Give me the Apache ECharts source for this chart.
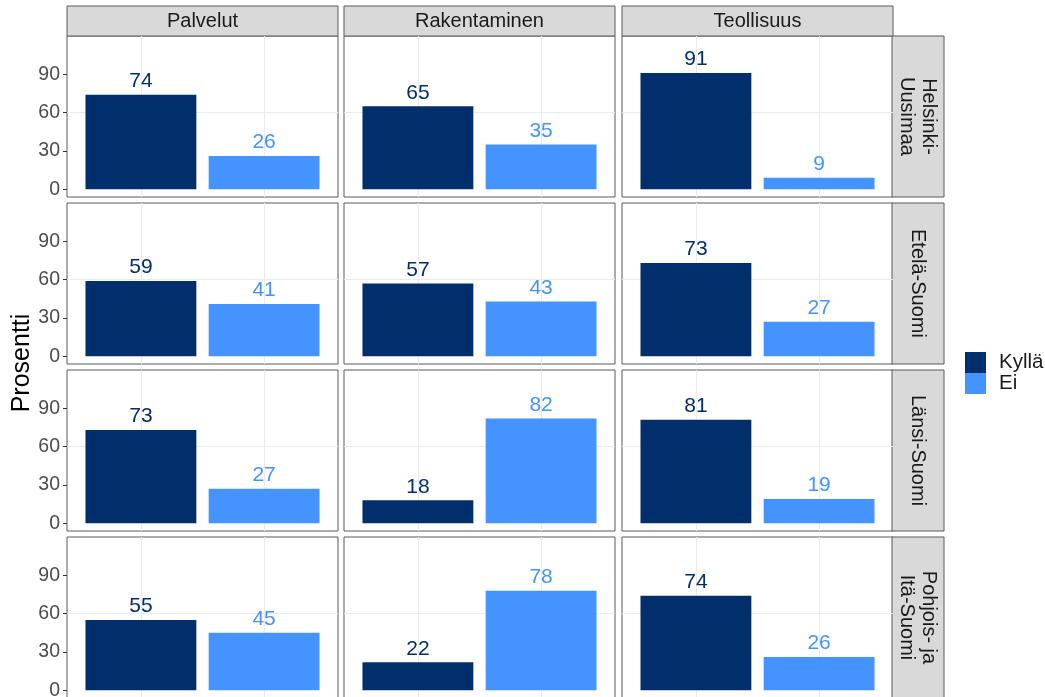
<!DOCTYPE html>
<html><head><meta charset="utf-8">
<script src="https://cdn.jsdelivr.net/npm/echarts@6/dist/echarts.min.js"></script>
<style>html,body{margin:0;padding:0;background:#fff}#c{width:1045px;height:697px}</style>
</head><body><div id="c"></div>
<script>
// ---- data ----
const industries = ['Palvelut', 'Rakentaminen', 'Teollisuus'];
const regions = ['Helsinki-\nUusimaa', 'Etelä-Suomi', 'Länsi-Suomi', 'Pohjois- ja\nItä-Suomi'];
const answers = ['Kyllä', 'Ei'];
// rows = regions, columns = industries
const kyllaValues = [[74, 65, 91], [59, 57, 73], [73, 18, 81], [55, 22, 74]];
const eiValues = [[26, 35, 9], [41, 43, 27], [27, 82, 19], [45, 78, 26]];
const yTickValues = [0, 30, 60, 90];

// ---- layout / style ----
const FONT = '"Liberation Sans", Arial, sans-serif';
const colLefts = [67, 344, 622];
const colWidth = 271;
const rowTops = [36, 203, 370, 537];
const rowHeight = 161;
const stripTop = 6, stripH = 30;
const rStripLeft = 892, rStripW = 52;
const answerColors = ['#002F6B', '#4493FF'];
const borderColor = '#5a5a5a';
const T = 'rgba(0,0,0,0)';
const yGridColors = [T, T, '#EBEBEB', T, T, T, T, '#F2F2F2', T, T];
const xGridColors = [T, T, T, '#EBEBEB', T];
const barWidthUnits = 0.9;

function makeRender(color) {
  return function (params, api) {
    const x = api.value(0), y = api.value(1);
    const tl = api.coord([x - barWidthUnits / 2, y]);
    const br = api.coord([x + barWidthUnits / 2, 0]);
    return {
      type: 'group',
      children: [
        { type: 'rect', shape: { x: tl[0], y: tl[1], width: br[0] - tl[0], height: br[1] - tl[1] },
          style: { fill: color } },
        { type: 'text', x: (tl[0] + br[0]) / 2, y: tl[1] - 3,
          style: { text: String(y), align: 'center', verticalAlign: 'bottom', fill: color,
                   font: '21px ' + FONT } }
      ]
    };
  };
}

const grids = [], xAxes = [], yAxes = [], series = [], graphics = [];
regions.forEach((reg, r) => {
  industries.forEach((ind, c) => {
    const gi = grids.length;
    grids.push({ left: colLefts[c], top: rowTops[r], width: colWidth, height: rowHeight,
      outerBoundsMode: 'none', containLabel: false,
      show: true, borderColor: borderColor, borderWidth: 1, backgroundColor: '#fff' });
    xAxes.push({ gridIndex: gi, type: 'value', min: 0.4, max: 2.6, interval: 0.2,
      axisLine: { show: false }, axisTick: { show: false }, axisLabel: { show: false },
      splitLine: { show: true, lineStyle: { color: xGridColors, width: 1 } } });
    yAxes.push({ gridIndex: gi, type: 'value', min: -6, max: 120, interval: 3,
      axisLine: { show: false },
      axisTick: { show: c === 0, customValues: yTickValues, length: 4, lineStyle: { color: '#333' } },
      axisLabel: { show: c === 0, customValues: yTickValues, margin: 7, color: '#4d4d4d',
        fontSize: 19.5, fontFamily: FONT,
        formatter: v => (yTickValues.indexOf(v) >= 0 ? String(v) : '') },
      splitLine: { show: true, lineStyle: { color: yGridColors, width: 1 } } });
    [kyllaValues, eiValues].forEach((vals, a) => {
      series.push({ type: 'custom', name: answers[a], xAxisIndex: gi, yAxisIndex: gi,
        itemStyle: { color: answerColors[a] }, silent: true,
        renderItem: makeRender(answerColors[a]),
        data: [[a + 1, vals[r][c]]] });
    });
  });
  // right strip
  graphics.push({ type: 'rect', shape: { x: rStripLeft, y: rowTops[r], width: rStripW, height: rowHeight },
    style: { fill: '#D9D9D9', stroke: borderColor, lineWidth: 1 } });
  graphics.push({ type: 'text', x: rStripLeft + rStripW / 2, y: rowTops[r] + rowHeight / 2, rotation: -Math.PI / 2,
    style: { text: reg, align: 'center', verticalAlign: 'middle', fill: '#1a1a1a',
      font: '20px ' + FONT, lineHeight: 22 } });
});
industries.forEach((ind, c) => {
  graphics.push({ type: 'rect', shape: { x: colLefts[c], y: stripTop, width: colWidth, height: stripH },
    style: { fill: '#D9D9D9', stroke: borderColor, lineWidth: 1 } });
  graphics.push({ type: 'text', x: colLefts[c] + colWidth / 2, y: stripTop + stripH / 2,
    style: { text: ind, align: 'center', verticalAlign: 'middle', fill: '#1a1a1a', font: '20px ' + FONT } });
});
graphics.push({ type: 'text', x: 22, y: 363, rotation: Math.PI / 2,
  style: { text: 'Prosentti', align: 'center', verticalAlign: 'middle', fill: '#000', font: '25px ' + FONT } });

const chart = echarts.init(document.getElementById('c'), null, { renderer: 'canvas' });
chart.setOption({
  animation: false,
  backgroundColor: '#fff',
  grid: grids, xAxis: xAxes, yAxis: yAxes, series: series,
  legend: { data: answers, orient: 'vertical', left: 965, top: 352, padding: 0, itemGap: 0,
    itemWidth: 21, itemHeight: 21, icon: 'rect', selectedMode: false,
    textStyle: { fontSize: 20.5, color: '#1a1a1a', fontFamily: FONT, padding: [0, 0, 0, 8] } },
  graphic: { elements: graphics }
});
</script></body></html>
